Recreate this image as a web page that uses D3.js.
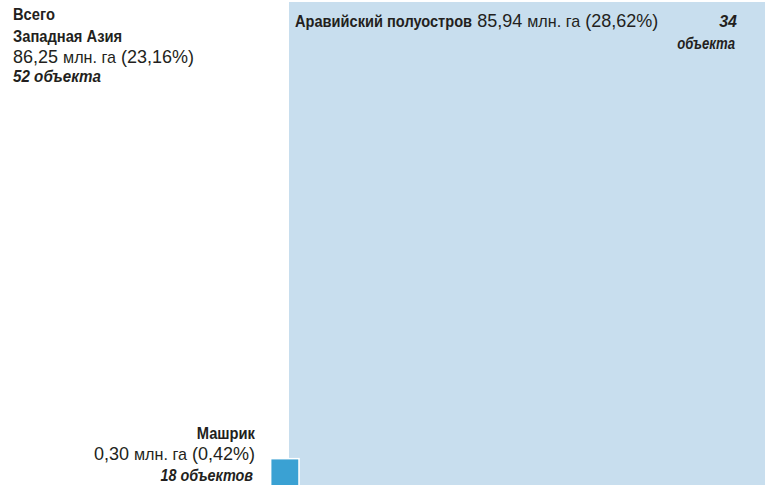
<!DOCTYPE html>
<html>
<head>
<meta charset="utf-8">
<script src="https://cdn.jsdelivr.net/npm/d3@7"></script>
<style>
  body { margin: 0; background: #fff; }
  svg { display: block; }
  text { fill: #231f20; font-family: 'Liberation Sans', Arial, Helvetica, sans-serif; }
</style>
</head>
<body>
<svg width="765" height="485"></svg>
<script>
'use strict';
// subregions of Western Asia
var regions = ['Аравийский полуостров', 'Машрик'];
var areas = [85.94, 0.30];           // млн. га
var shares = ['28,62%', '0,42%'];
var sites = [['34', 'объекта'], ['18 объектов']];
var colors = ['#c8deee', '#3aa1d3'];

var totalName = ['Всего', 'Западная Азия'];
var totalArea = '86,25';
var totalShare = '23,16%';
var totalSites = '52 объекта';

var svg = d3.select('svg');
var W = 765, H = 485;

// area encoding: the largest block fills the panel right of x0
var x0 = 289, y0 = 2;
var bigH = H - y0, bigW = W - x0;
var area = d3.scaleLinear().domain([0, d3.max(areas)]).range([0, bigW * bigH]);

svg.append('rect')
  .attr('x', x0).attr('y', y0)
  .attr('width', area(areas[0]) / bigH).attr('height', bigH)
  .style('fill', colors[0]);

var side = Math.sqrt(area(areas[1]));
svg.append('rect')
  .attr('x', 299 - side).attr('y', H - side + 2)
  .attr('width', side).attr('height', side + 2)
  .style('fill', colors[1])
  .style('stroke', '#fff').style('stroke-width', 1.5);

// lay out a line of styled pieces; sx = horizontal squeeze
function line(x, y, pieces, anchor) {
  var g = svg.append('g');
  var items = pieces.map(function (p) {
    var t = g.append('text')
      .style('font-size', p.size + 'px')
      .style('font-weight', p.bold ? 'bold' : 'normal')
      .style('font-style', p.italic ? 'italic' : 'normal')
      .text(p.t);
    var w = t.node().getComputedTextLength() * (p.sx || 1);
    return { t: t, w: w, sx: p.sx || 1, gap: p.gap == null ? 5 : p.gap };
  });
  var total = d3.sum(items, function (d, i) { return d.w + (i < items.length - 1 ? d.gap : 0); });
  var cx = anchor === 'end' ? x - total : x;
  items.forEach(function (d) {
    d.t.attr('transform', 'translate(' + cx + ',' + y + ') scale(' + d.sx + ',1)');
    cx += d.w + d.gap;
  });
}

function fmt(v) { return v.toFixed(2).replace('.', ','); }

// total label
line(13, 20, [{ t: totalName[0], size: 16, bold: true, sx: 0.92 }]);
line(13, 42, [{ t: totalName[1], size: 16, bold: true, sx: 0.92 }]);
line(13, 63, [
  { t: totalArea, size: 18 },
  { t: 'млн. га', size: 17, sx: 0.95 },
  { t: '(' + totalShare + ')', size: 18 }
]);
line(13, 82, [{ t: totalSites, size: 16, bold: true, italic: true, sx: 0.95 }]);

// Arabian peninsula label
line(295, 27, [
  { t: regions[0], size: 17, bold: true, sx: 0.86 },
  { t: fmt(areas[0]), size: 18 },
  { t: 'млн. га', size: 17, sx: 0.95 },
  { t: '(' + shares[0] + ')', size: 18 }
]);
line(737, 27, [{ t: sites[0][0], size: 16, bold: true, italic: true }], 'end');
line(735, 49, [{ t: sites[0][1], size: 16, bold: true, italic: true, sx: 0.82 }], 'end');

// Mashriq label
line(255, 439, [{ t: regions[1], size: 16, bold: true, sx: 0.92 }], 'end');
line(255, 460, [
  { t: fmt(areas[1]), size: 18 },
  { t: 'млн. га', size: 17, sx: 0.95 },
  { t: '(' + shares[1] + ')', size: 18 }
], 'end');
line(253, 481, [{ t: sites[1][0], size: 16, bold: true, italic: true, sx: 0.9 }], 'end');
</script>
</body>
</html>
